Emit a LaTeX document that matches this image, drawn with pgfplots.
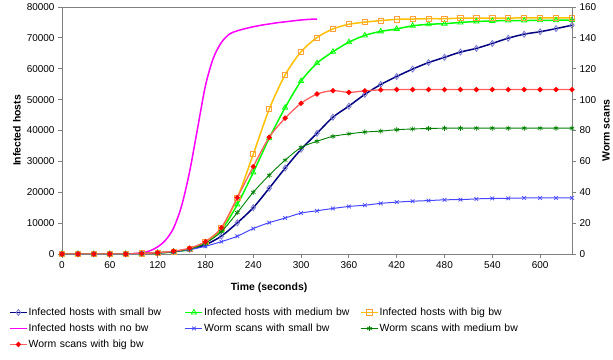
\documentclass[border=0pt]{standalone}
\usepackage{fontspec}
\setmainfont{Liberation Sans}
\usepackage{pgfplots}
\pgfplotsset{compat=1.18}
\usepackage{pgfplotstable}

% Infected hosts, sampled every 20 s
\pgfplotstableread{
t    small  medium big
0    0      0      0
20   0      0      0
40   0      0      0
60   0      0      0
80   0      0      0
100  200    100    200
120  400    300    400
140  800    700    800
160  1500   1500   1700
180  3000   3800   4000
200  5800   7800   8400
220  10100  16000  18200
240  15000  26400  32300
260  21300  37500  46900
280  27800  47400  58000
300  33900  56000  65500
320  39100  61800  70100
340  44300  65500  72900
360  47900  68600  74400
380  51700  70800  75100
400  54900  72100  75600
420  57500  72900  76000
440  59900  73900  76100
460  62000  74400  76200
480  63700  74600  76200
500  65400  75000  76400
520  66600  75300  76400
540  68200  75500  76400
560  69900  75600  76400
580  71200  75600  76500
600  72000  75700  76500
620  73000  75700  76500
640  74100  75800  76500
}\infected

% Infected hosts without bandwidth limits, every 10 s
\pgfplotstableread{
t    hosts
0    0
80   0
90   100
100  400
110  1000
120  2300
130  4500
140  8400
150  15500
160  26500
170  40500
180  54500
190  63500
200  68500
210  71200
220  72300
230  73000
240  73600
250  74100
260  74500
270  74900
280  75200
290  75500
300  75800
310  76000
320  76100
}\nobw

% Worm scans, every 20 s
\pgfplotstableread{
t    small  medium big
0    0      0      0
20   0      0      0
40   0      0      0
60   0      0      0
80   0      0      0
100  0.3    0.3    0.3
120  0.6    0.6    0.8
140  1.3    1.5    1.8
160  2.8    3.2    3.8
180  5      7      8
200  8      14.5   17
220  11.5   26.8   36.5
240  16.5   40     56.6
260  20.3   51     75.6
280  23.3   60.8   88
300  26.5   69     97.6
320  28     73     103.6
340  29.5   76.2   105.8
360  30.8   77.8   104.7
380  31.6   79     105.7
400  32.8   79.6   106.3
420  33.6   80.5   106.5
440  34.2   81     106.5
460  34.6   81.3   106.5
480  35.1   81.5   106.5
500  35.2   81.5   106.5
520  35.7   81.5   106.5
540  36     81.5   106.5
560  36.1   81.5   106.5
580  36.3   81.5   106.5
600  36.3   81.5   106.5
620  36.3   81.5   106.5
640  36.3   81.5   106.5
}\scans

\definecolor{axisgray}{RGB}{128,128,128}
\definecolor{ihsmall}{RGB}{0,0,128}
\definecolor{ihsmallmk}{RGB}{120,120,210}
\definecolor{ihmed}{RGB}{0,255,0}
\definecolor{ihbig}{RGB}{255,192,0}
\definecolor{ihbigmk}{RGB}{255,160,60}
\definecolor{ihno}{RGB}{255,0,255}
\definecolor{wssmall}{RGB}{70,70,255}
\definecolor{wsmed}{RGB}{0,128,0}
\definecolor{wsbig}{RGB}{255,95,95}
\definecolor{wsbigmk}{RGB}{255,0,0}

\pgfplotsset{
  ih small/.style={color=ihsmall, line width=1.5bp, smooth, mark=diamond,
    mark size=3bp, mark options={draw=ihsmallmk, fill=none, line width=0.8bp}},
  ih medium/.style={color=ihmed, line width=1.5bp, smooth, mark=triangle,
    mark size=3bp, mark options={draw=ihmed, fill=none, line width=0.8bp}},
  ih big/.style={color=ihbig, line width=1.5bp, smooth, mark=square,
    mark size=2.6bp, mark options={draw=ihbigmk, fill=none, line width=0.8bp}},
  ih none/.style={color=ihno, line width=1.5bp, smooth, mark=none},
  ws small/.style={color=wssmall, line width=1bp, smooth, mark=x,
    mark size=2.6bp, mark options={draw=wssmall, line width=0.7bp}},
  ws medium/.style={color=wsmed, line width=0.9bp, smooth, mark=asterisk,
    mark size=2.6bp, mark options={draw=wsmed, line width=0.7bp}},
  ws big/.style={color=wsbig, line width=1.3bp, smooth, mark=*,
    mark size=1.9bp, mark options={draw=wsbigmk, fill=wsbigmk}},
  common/.style={
    scale only axis, width=510bp, height=247bp,
    at={(62bp,106bp)}, anchor=south west,
    xmin=0, xmax=640,
    tick align=outside, major tick length=4bp,
    axis line style={axisgray, line width=0.8bp},
    every tick/.style={axisgray, line width=0.8bp},
    tick label style={font=\fontsize{10}{12}\selectfont, black},
    /pgf/number format/assume math mode=true,
    /pgf/number format/1000 sep={},
    scaled y ticks=false,
  },
}

\begin{document}
\begin{tikzpicture}
\path[use as bounding box] (0,0) rectangle (613bp,360bp);

% Left axis: infected hosts
\begin{axis}[common,
  ymin=0, ymax=80000,
  axis x line*=bottom, axis y line*=left,
  xtick={0,60,...,600}, ytick={0,10000,...,80000},
  xlabel={\textbf{Time (seconds)}},
  ylabel={\textbf{Infected hosts}},
  every axis x label/.style={at={(axis description cs:0.406,0)}, yshift=-34bp,
    anchor=center, font=\fontsize{10.5}{12}\selectfont},
  every axis y label/.style={at={(axis description cs:0,0.5)}, xshift=-45bp,
    rotate=90, anchor=center, font=\fontsize{10.5}{12}\selectfont},
]
\addplot[ih none] table[x=t, y=hosts] {\nobw};
\addplot[ih small] table[x=t, y=small] {\infected};
\addplot[ih medium] table[x=t, y=medium] {\infected};
\addplot[ih big] table[x=t, y=big] {\infected};
\end{axis}

% Right axis: worm scans
\begin{axis}[common,
  ymin=0, ymax=160,
  axis x line*=top, axis y line*=right,
  xtick=\empty, ytick={0,20,...,160},
  ylabel={\textbf{Worm scans}},
  every axis y label/.style={at={(axis description cs:1,0.5)}, xshift=34bp,
    rotate=90, anchor=center, font=\fontsize{10.5}{12}\selectfont},
  legend columns=3,
  legend cell align=left,
  legend style={at={(axis description cs:0,0)}, anchor=north west,
    xshift=-56bp, yshift=-51bp, draw=none, fill=none,
    font=\fontsize{10.5}{12}\selectfont,
    nodes={text width=155bp, inner xsep=1bp, inner ysep=0bp,
      text height=8bp, text depth=2.5bp},
    row sep=5.5bp},
]
\addlegendimage{ih small}
\addlegendentry{Infected hosts with small bw}
\addlegendimage{ih medium}
\addlegendentry{Infected hosts with medium bw}
\addlegendimage{ih big}
\addlegendentry{Infected hosts with big bw}
\addlegendimage{ih none}
\addlegendentry{Infected hosts with no bw}
\addplot[ws small] table[x=t, y=small] {\scans};
\addlegendentry{Worm scans with small bw}
\addplot[ws medium] table[x=t, y=medium] {\scans};
\addlegendentry{Worm scans with medium bw}
\addplot[ws big] table[x=t, y=big] {\scans};
\addlegendentry{Worm scans with big bw}
\end{axis}
\end{tikzpicture}
\end{document}
